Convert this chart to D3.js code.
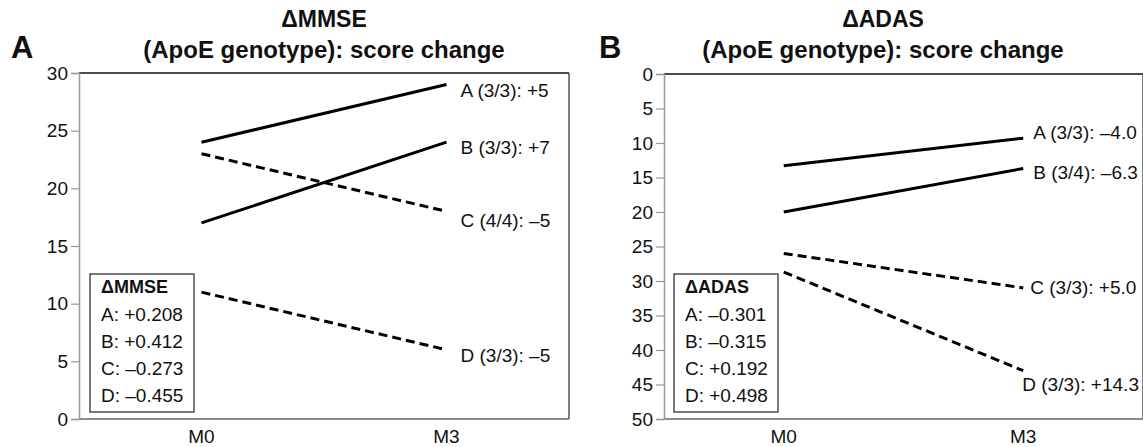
<!doctype html>
<meta charset="utf-8">
<script src="https://d3js.org/d3.v7.min.js"></script>
<style>
  body { margin: 0; background: #fff; }
  text { font-family: "Liberation Sans", Arial, sans-serif; fill: #111; }
</style>
<body>
<script>

var width = 1143;
var height = 447;

var times = ["M0", "M3"];

// panel A: MMSE
var mmseGroups = ["A", "B", "C", "D"];
var mmseStart = [24, 17, 23, 11];
var mmseEnd = [29, 24, 18, 6];
var mmseDashed = [false, false, true, true];
var mmseLabels = ["A (3/3): +5", "B (3/3): +7", "C (4/4): \u20135", "D (3/3): \u20135"];
var mmseCorr = ["A: +0.208", "B: +0.412", "C: \u20130.273", "D: \u20130.455"];
var mmseTicks = [0, 5, 10, 15, 20, 25, 30];

// panel B: ADAS
var adasGroups = ["A", "B", "C", "D"];
var adasStart = [13.3, 20, 26, 28.7];
var adasEnd = [9.3, 13.7, 31, 43];
var adasDashed = [false, false, true, true];
var adasLabels = ["A (3/3): \u20134.0", "B (3/4): \u20136.3", "C (3/3): +5.0", "D (3/3): +14.3"];
var adasCorr = ["A: \u20130.301", "B: \u20130.315", "C: +0.192", "D: +0.498"];
var adasTicks = [0, 5, 10, 15, 20, 25, 30, 35, 40, 45, 50];

var svg = d3.select("body")
        .append("svg")
        .attr("width", width)
        .attr("height", height);

function panel(opt) {
    var g = svg.append("g");
    var x = d3.scalePoint()
            .domain(times)
            .range([opt.left, opt.right])
            .padding(0.5);
    var y = d3.scaleLinear()
            .domain(opt.domain)
            .range([opt.bottom, opt.top]);

    // frame
    g.append("line")
        .attr("x1", opt.left).attr("x2", opt.right)
        .attr("y1", opt.top).attr("y2", opt.top)
        .attr("stroke", "#111").attr("stroke-width", 1.5);
    g.append("line")
        .attr("x1", opt.right).attr("x2", opt.right)
        .attr("y1", opt.top).attr("y2", opt.bottom)
        .attr("stroke", "#555").attr("stroke-width", 1.5);
    g.append("line")
        .attr("x1", opt.left).attr("x2", opt.right)
        .attr("y1", opt.bottom).attr("y2", opt.bottom)
        .attr("stroke", "#666").attr("stroke-width", 1.5);

    var yAxis = g.append("g")
            .attr("transform", "translate(" + opt.left + ",0)")
            .call(d3.axisLeft(y).tickValues(opt.ticks).tickSize(8).tickPadding(3));
    yAxis.select(".domain").attr("stroke", "#999").attr("stroke-width", 1.5);
    yAxis.selectAll(".tick line").attr("stroke", "#999").attr("stroke-width", 1.2);
    yAxis.selectAll("text")
        .style("font-size", "19px")
        .style("font-family", "'Liberation Sans', Arial, sans-serif")
        .attr("fill", "#111");

    g.selectAll(".cat")
        .data(times)
        .enter()
        .append("text")
        .attr("x", function(d){ return x(d); })
        .attr("y", opt.bottom + 24)
        .attr("text-anchor", "middle")
        .style("font-size", "19px")
        .text(function(d){ return d; });

    var rows = opt.groups.map(function(k, i){
        return { start: opt.start[i], end: opt.end[i], dashed: opt.dashed[i], label: opt.labels[i] };
    });

    g.selectAll(".series")
        .data(rows)
        .enter()
        .append("line")
        .attr("x1", x("M0"))
        .attr("x2", x("M3"))
        .attr("y1", function(d){ return y(d.start); })
        .attr("y2", function(d){ return y(d.end); })
        .attr("stroke", "#000")
        .attr("stroke-width", 3)
        .attr("stroke-dasharray", function(d){ return d.dashed ? "9,5" : null; });

    g.selectAll(".lab")
        .data(rows)
        .enter()
        .append("text")
        .attr("x", function(d, i){ return x("M3") + opt.labelDx[i]; })
        .attr("y", function(d, i){ return y(d.end) + opt.labelDy[i]; })
        .style("font-size", "19px")
        .text(function(d){ return d.label; });

    // correlation box
    var bx = opt.left + opt.boxDx, by = 274, bw = 104, bh = 138;
    g.append("rect")
        .attr("x", bx).attr("y", by)
        .attr("width", bw).attr("height", bh)
        .attr("fill", "#fff").attr("stroke", "#222").attr("stroke-width", 1.2);
    g.append("text")
        .attr("x", bx + 11).attr("y", by + 19)
        .style("font-size", "18px").style("font-weight", "bold")
        .text(opt.boxTitle);
    g.selectAll(".corr")
        .data(opt.corr)
        .enter()
        .append("text")
        .attr("x", bx + 11)
        .attr("y", function(d, i){ return by + 47 + i * 27; })
        .style("font-size", "19px")
        .text(function(d){ return d; });

    // titles
    var cx = opt.titleX;
    g.append("text")
        .attr("x", cx).attr("y", 27)
        .attr("text-anchor", "middle")
        .style("font-size", "23px").style("font-weight", "bold")
        .text(opt.title);
    g.append("text")
        .attr("x", cx).attr("y", 58)
        .attr("text-anchor", "middle")
        .style("font-size", "24px").style("font-weight", "bold")
        .text("(ApoE genotype): score change");
    g.append("text")
        .attr("x", opt.letterX).attr("y", 58)
        .style("font-size", "31px").style("font-weight", "bold")
        .text(opt.letter);
}

panel({
    left: 79, right: 569, top: 73, bottom: 419,
    domain: [0, 30], ticks: mmseTicks,
    groups: mmseGroups, start: mmseStart, end: mmseEnd, dashed: mmseDashed,
    labels: mmseLabels, corr: mmseCorr, boxTitle: "\u0394MMSE",
    labelDx: [14, 14, 14, 14], labelDy: [12, 12, 16, 12], boxDx: 11,
    title: "\u0394MMSE", titleX: 324, letter: "A", letterX: 11
});

panel({
    left: 664, right: 1143, top: 74, bottom: 419,
    domain: [50, 0], ticks: adasTicks,
    groups: adasGroups, start: adasStart, end: adasEnd, dashed: adasDashed,
    labels: adasLabels, corr: adasCorr, boxTitle: "\u0394ADAS",
    labelDx: [10, 10, 7, -1], labelDy: [1, 10, 6, 20], boxDx: 10,
    title: "\u0394ADAS", titleX: 883, letter: "B", letterX: 599
});

</script>
